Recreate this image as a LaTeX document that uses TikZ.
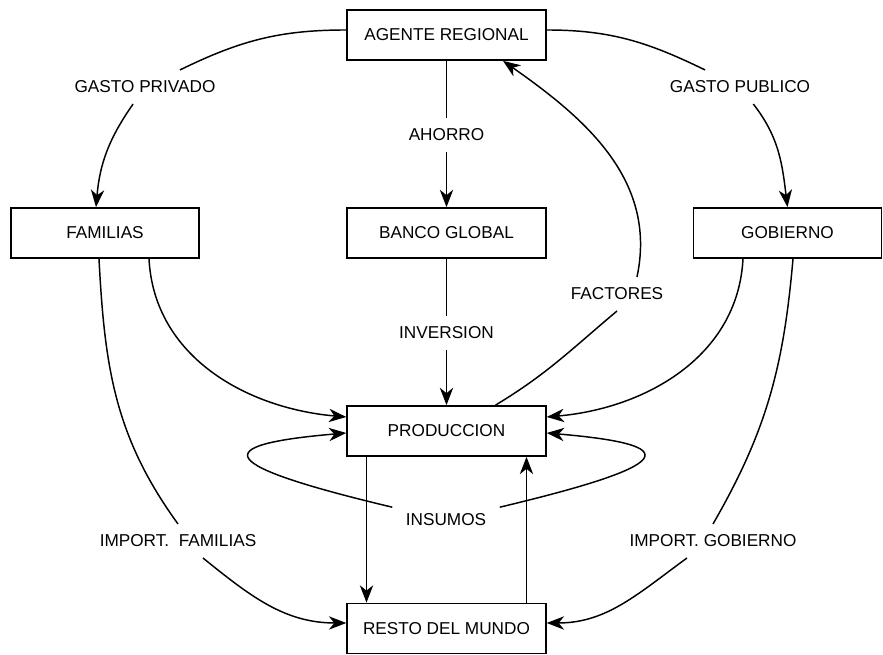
\documentclass[tikz,border=0pt]{standalone}
\usepackage{fontspec}
\setmainfont{Liberation Sans}
\usepackage{tikz}
\usetikzlibrary{calc,arrows.meta}

\begin{document}
\begin{tikzpicture}[x=0.75pt,y=0.75pt,
    box/.style={draw, line width=1.3pt, minimum width=149pt, minimum height=37.5pt, inner sep=0pt, font=\fontsize{12.9}{15}\selectfont},
    sidebox/.style={box, minimum width=141pt},
    lbl/.style={inner xsep=10pt, inner ysep=8pt, font=\fontsize{12.9}{15}\selectfont},
    link/.style={line width=1.1pt},
    flow/.style={link, -{Stealth[length=13pt,width=10pt,inset=4pt]}}]
    \useasboundingbox (0,0) rectangle (883,655);

    % Boxes
    \node[box] (ag) at (446.5,620) {AGENTE REGIONAL};
    \node[sidebox] (fam) at (105,422) {FAMILIAS};
    \node[box] (bg) at (446.5,422) {BANCO GLOBAL};
    \node[sidebox] (gob) at (787.5,422) {GOBIERNO};
    \node[box] (prod) at (446.5,224) {PRODUCCION};
    \node[box] (rest) at (446.5,26.5) {RESTO DEL MUNDO};

    % Labels
    \node[lbl] (gpriv) at (145,568) {GASTO PRIVADO};
    \node[lbl] (gpub) at (740,568) {GASTO PUBLICO};
    \node[lbl] (ahorro) at (446.5,520) {AHORRO};
    \node[lbl] (inver) at (446.5,322) {INVERSION};
    \node[lbl] (fact) at (617,361) {FACTORES};
    \node[lbl] (ins) at (446,135) {INSUMOS};
    \node[lbl] (ifam) at (178,114) {IMPORT.\ \ FAMILIAS};
    \node[lbl] (igob) at (713,114) {IMPORT. GOBIERNO};

    % Middle column
    \draw[link] (ag) -- (ahorro);
    \draw[flow] (ahorro) -- (bg);
    \draw[link] (bg) -- (inver);
    \draw[flow] (inver) -- (prod);

    % Spending
    \draw[link] ($(ag.west)+(0,5)$) to[out=180,in=26] (gpriv);
    \draw[flow] (gpriv) to[out=-125,in=85] ($(fam.north)+(-9,0)$);
    \draw[link] ($(ag.east)+(0,5)$) to[out=0,in=154] (gpub);
    \draw[flow] (gpub) to[out=-52,in=97] (gob.north);

    % Factors
    \draw[link] ($(prod.north)+(49,0)$) to[out=31,in=220] (fact.south);
    \draw[flow] ($(fact.north)+(20,0)$) to[out=78,in=-35] ($(ag.south)+(56.5,0)$);

    % Demand into production
    \draw[flow] ($(fam.south)+(44,0)$) to[out=-87,in=175] ($(prod.west)+(0,14)$);
    \draw[flow] ($(gob.south)+(-44.5,0)$) to[out=-93,in=5] ($(prod.east)+(0,14)$);

    % Imports
    \draw[link] ($(fam.south)+(-6,0)$) to[out=-87,in=126] (ifam.north);
    \draw[flow] ($(ifam.south)+(25,0)$) to[out=-39,in=180] ($(rest.west)+(0,5.5)$);
    \draw[link] ($(gob.south)+(5.5,0)$) to[out=-95,in=60] (igob.north);
    \draw[flow] ($(igob.south)+(-26,0)$) to[out=-144,in=0] ($(rest.east)+(0,5.5)$);

    % Trade with rest of world
    \draw[flow] ($(prod.south)+(-80,0)$) -- ($(rest.north)+(-80,0)$);
    \draw[flow] ($(rest.north)+(80,0)$) -- ($(prod.south)+(80,0)$);

    % Intermediate inputs
    \draw[flow] (ins) .. controls +(-231,55) and +(-140,-12) .. ($(prod.west)+(0,-2)$);
    \draw[flow] (ins) .. controls +(231,55) and +(140,-12) .. ($(prod.east)+(0,-2)$);
\end{tikzpicture}
\end{document}
